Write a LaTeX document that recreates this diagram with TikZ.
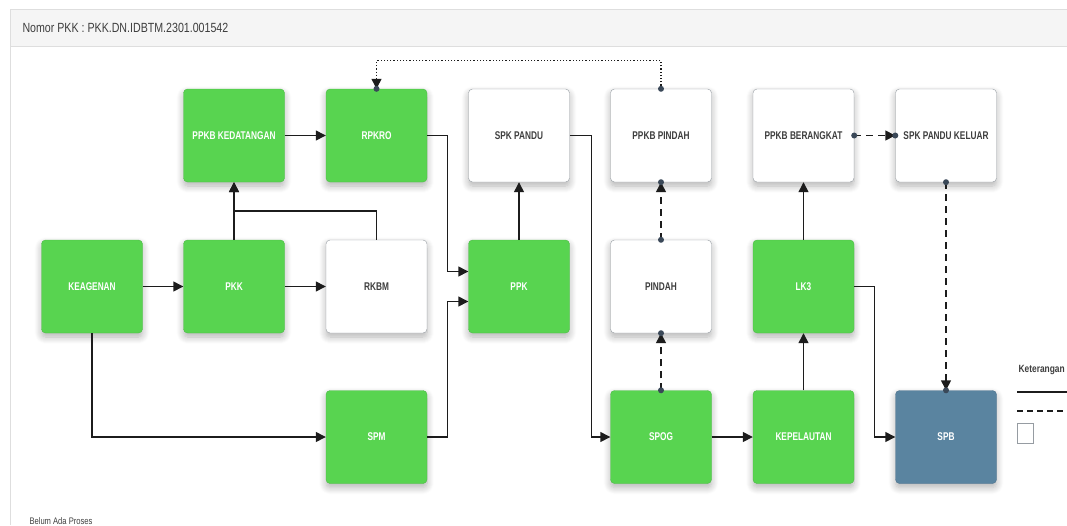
\documentclass[tikz,border=0pt]{standalone}
\usepackage{fontspec}
\newfontfamily\condf[FakeStretch=0.8]{Liberation Sans}
\newfontfamily\labelf[FakeStretch=0.74]{Liberation Sans}
\usetikzlibrary{arrows.meta,shadows.blur}

\definecolor{boxgreen}{RGB}{88,212,80}
\definecolor{boxgreenedge}{RGB}{78,186,72}
\definecolor{boxblue}{RGB}{90,132,160}
\definecolor{boxblueedge}{RGB}{78,114,140}
\definecolor{boxgrayedge}{RGB}{150,156,162}
\definecolor{labelgray}{RGB}{62,62,62}
\definecolor{linec}{RGB}{28,28,28}
\definecolor{dotc}{RGB}{58,72,88}
\definecolor{headfill}{RGB}{245,245,245}
\definecolor{panelline}{RGB}{222,222,222}

\begin{document}
\begin{tikzpicture}[x=1pt,y=-1pt,
  box/.style={rectangle,rounded corners=4pt,minimum width=101pt,minimum height=93pt,inner sep=0pt,
    font=\labelf\bfseries\fontsize{11.2}{13}\selectfont,
    blur shadow={shadow xshift=0pt,shadow yshift=-4pt,shadow blur radius=7pt,shadow blur steps=8,shadow opacity=30}},
  gbox/.style={box,fill=boxgreen,draw=boxgreenedge,text=white},
  wbox/.style={box,fill=white,draw=boxgrayedge,text=labelgray},
  bbox/.style={box,fill=boxblue,draw=boxblueedge,text=white},
  link/.style={draw=linec,line width=1.4pt},
  flow/.style={link,-{Triangle[length=10pt,width=10pt]}},
  dashflow/.style={flow,dash pattern=on 7pt off 5pt},
  dotflow/.style={flow,line width=1.2pt,dash pattern=on 1.2pt off 2pt},
]
  \useasboundingbox (0,0) rectangle (1067,525);
  % panel and header
  \fill[headfill] (10,9) rectangle (1067,46);
  \draw[panelline] (1067,9) -- (10,9) -- (10,525);
  \draw[panelline] (10,46) -- (1067,46);
  \node[anchor=west,text=labelgray,font=\condf\fontsize{13.3}{15}\selectfont] (title) at (19,28)
    {Nomor PKK : PKK.DN.IDBTM.2301.001542};

  % process boxes
  \foreach \n/\x/\y/\s/\t in {
      keagenan/92/286.5/gbox/KEAGENAN,
      pkk/234/286.5/gbox/PKK,
      ppkbk/234/135.5/gbox/PPKB KEDATANGAN,
      rpkro/376.5/135.5/gbox/RPKRO,
      rkbm/376.5/286.5/wbox/RKBM,
      spm/376.5/437/gbox/SPM,
      spkpandu/519/135.5/wbox/SPK PANDU,
      ppk/519/286.5/gbox/PPK,
      ppkbp/661/135.5/wbox/PPKB PINDAH,
      pindah/661/286.5/wbox/PINDAH,
      spog/661/437/gbox/SPOG,
      ppkbb/803.5/135.5/wbox/PPKB BERANGKAT,
      lk3/803.5/286.5/gbox/LK3,
      kepelautan/803.5/437/gbox/KEPELAUTAN,
      spkpk/946/135.5/wbox/SPK PANDU KELUAR,
      spb/946/437/bbox/SPB}
    \node[\s] (\n) at (\x,\y) {\t};

  % solid flow
  \draw[flow] (keagenan) -- (pkk);
  \draw[flow] (pkk) -- (rkbm);
  \draw[flow] (pkk) -- (ppkbk);
  \draw[flow] (rkbm.north) -- ++(0,-29) -| (ppkbk.south);
  \draw[flow] (ppkbk) -- (rpkro);
  \draw[flow] (keagenan.south) |- (spm.west);
  \draw[flow] (rpkro.east) -- ++(20,0) |- ([yshift=15pt]ppk.west);
  \draw[flow] (spm.east) -- ++(20,0) |- ([yshift=-15pt]ppk.west);
  \draw[flow] (ppk) -- (spkpandu);
  \draw[flow] (spkpandu.east) -- ++(22,0) |- (spog.west);
  \draw[flow] (spog) -- (kepelautan);
  \draw[flow] (kepelautan) -- (lk3);
  \draw[flow] (lk3) -- (ppkbb);
  \draw[flow] (lk3.east) -- ++(20,0) |- (spb.west);

  % dashed and dotted flow
  \draw[dashflow] (spog) -- (pindah);
  \draw[dashflow] (pindah) -- (ppkbp);
  \draw[dashflow] (ppkbb) -- (spkpk);
  \draw[dashflow] (spkpk) -- (spb);
  \draw[dotflow] (ppkbp.north) -- ++(0,-28) -| (rpkro.north);
  \foreach \p in {spog.north,pindah.south,pindah.north,ppkbp.south,ppkbp.north,
      rpkro.north,ppkbb.east,spkpk.west,spkpk.south,spb.north}
    \fill[dotc] (\p) circle (3pt);

  % legend
  \node[anchor=west,text=labelgray,font=\condf\bfseries\fontsize{10.5}{12}\selectfont] (legend) at (1015,370) {Keterangan};
  \draw[linec,line width=1.2pt] (1017,392) -- (1072,392);
  \draw[linec,line width=1.2pt,dash pattern=on 6pt off 4pt] (1017,411) -- (1072,411);
  \draw[boxgrayedge,line width=0.8pt] (1017,423) rectangle (1033,443);

  \node[anchor=west,text=labelgray,font=\condf\fontsize{9.5}{11}\selectfont] (status) at (26,521) {Belum Ada Proses};
\end{tikzpicture}
\end{document}
